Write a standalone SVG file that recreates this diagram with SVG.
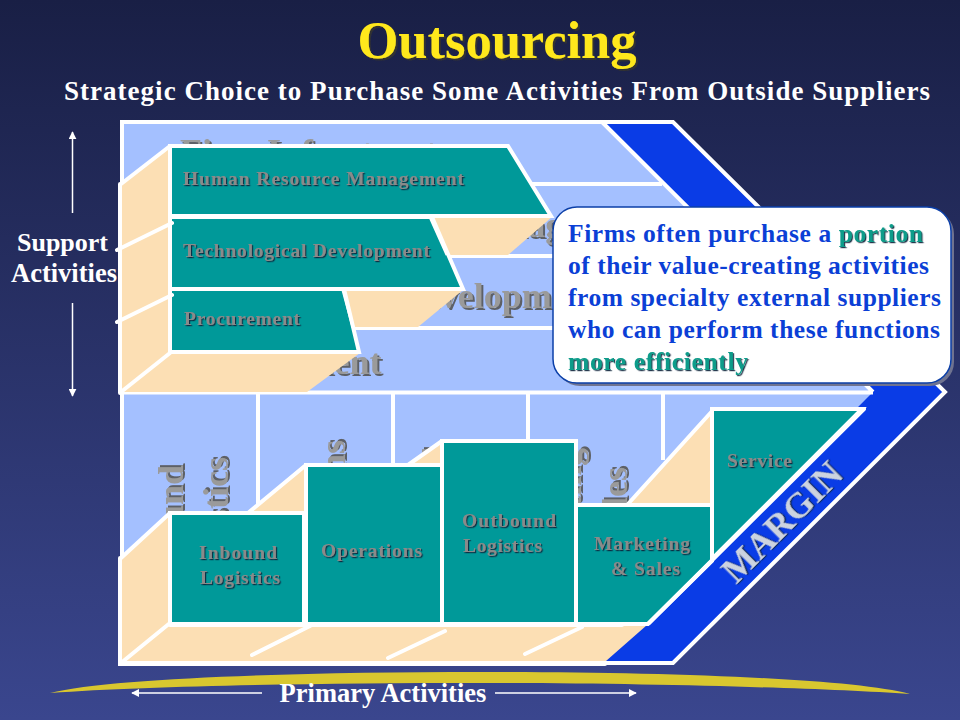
<svg xmlns="http://www.w3.org/2000/svg" width="960" height="720" viewBox="0 0 960 720">
<defs>
<linearGradient id="bg" x1="0" y1="0" x2="0" y2="1"><stop offset="0" stop-color="#191f45"/><stop offset="1" stop-color="#3a468e"/></linearGradient>
<filter id="sh" x="-10%" y="-30%" width="120%" height="160%"><feDropShadow dx="1.2" dy="1.2" stdDeviation="0.2" flood-color="#10203a" flood-opacity="0.9"/></filter>
<filter id="shBig" x="-10%" y="-30%" width="120%" height="160%"><feDropShadow dx="2" dy="2" stdDeviation="0.3" flood-color="#555" flood-opacity="0.9"/></filter>
<filter id="shTitle" x="-10%" y="-30%" width="120%" height="160%"><feDropShadow dx="2" dy="2" stdDeviation="0.3" flood-color="#333" flood-opacity="1"/></filter>
<marker id="ah" viewBox="0 0 10 10" refX="9" refY="5" markerWidth="8" markerHeight="8" markerUnits="userSpaceOnUse" orient="auto-start-reverse"><path d="M0 0L10 5L0 10Z" fill="#fff"/></marker>
</defs>
<style>
text{font-family:"Liberation Serif","Times New Roman",serif;font-weight:bold}
.w{fill:#fff}
.big{fill:#9a9a9a;font-size:36px;filter:url(#shBig)}
.lab{fill:#8a8a8a;font-size:19.500px;filter:url(#sh)}
.call{fill:#0b3fd6;font-size:25.500px}
.hi{fill:#0f9c8a;filter:url(#sh)}
.teal{fill:#009999;stroke:#fff;stroke-width:4}
.cream{fill:#fcdfb4}
.cell{fill:#a4c0ff}
.ln{stroke:#fff;stroke-width:4;fill:none;stroke-linecap:round}
.ar{stroke:#fff;stroke-width:1.5;fill:none;marker-end:url(#ah)}
</style>
<rect width="960" height="720" fill="url(#bg)"/>
<path id="swoosh" d="M50 693C110 678 300 672 480 672C660 672 850 678 910 694C820 688 650 683 480 683C310 683 150 686 50 693Z" fill="#d9c72f"/>
<text class="w" x="497" y="58" text-anchor="middle" font-size="52.500" style="fill:#ffe81a;filter:url(#shTitle)">Outsourcing</text>
<text class="w" x="497" y="100" text-anchor="middle" font-size="27" textLength="866" lengthAdjust="spacing">Strategic Choice to Purchase Some Activities From Outside Suppliers</text>

<g id="chevron">
<polygon points="122,122 673,122 945,392 673,663 122,663" fill="#0a3ce6" stroke="#fff" stroke-width="4"/>
<polygon id="support-area" class="cell" points="124,124 602,124 870,391 124,391"/>
<polygon id="primary-area" class="cell" points="124,394 871,394 605,661 124,661"/>
<g id="hidden-labels">
<text class="big" x="180" y="164">Firm Infrastructure</text>
<text class="big" x="180" y="237">Human Resource Management</text>
<text class="big" x="178" y="308">Technological Development</text>
<text class="big" x="181" y="374">Procurement</text>
<text class="big" transform="translate(183,597) rotate(-90)">Inbound</text>
<text class="big" transform="translate(228,593) rotate(-90)">Logistics</text>
<text class="big" transform="translate(345,612) rotate(-90)">Operations</text>
<text class="big" transform="translate(447,605) rotate(-90)">Outbound</text>
<text class="big" transform="translate(581,612) rotate(-90)">Marketing</text>
<text class="big" transform="translate(627,584) rotate(-90)">&amp; Sales</text>
</g>
<path class="ln" style="stroke-linecap:butt" d="M122 392.500H873M530 184H662M450 256H735M350 328H808M258 393V520M393 393V470M528 393V445M663 393V460M602 122L873 392"/>
</g>

<g id="support-activities">
<polygon class="cream" points="120,184 170,145 170,353 360,353 307,392 120,392"/>
<polygon class="cream" points="430,217 552,217 508,255 446,255"/>
<polygon class="cream" points="340,290 463,290 418,327 352,327"/>
<path class="ln" d="M121 184L170 146M121 392L170 353M120 184V393"/>
<g id="hrm"><polygon class="teal" points="170,146 508,146 551,216 170,216"/><text class="lab" x="183" y="185" textLength="281">Human Resource Management</text></g>
<g id="tech"><polygon class="teal" points="170,217 432,217 463,289 170,289"/><text class="lab" x="183" y="257" textLength="247">Technological Development</text></g>
<g id="proc"><polygon class="teal" points="170,289 344,289 359,352 170,352"/><text class="lab" x="184" y="325" textLength="116">Procurement</text></g>
<path class="ln" d="M117 250L172 223M117 322L172 295"/>
<path class="ln" style="stroke-width:3;stroke-linecap:butt" d="M430 217L447 255M343 290L353 327"/>
</g>

<g id="primary-activities">
<polygon class="cream" points="122,558 170,513 248,513 303,465 408,465 441,441 441,625 647,625 606,661 122,661"/>
<polygon class="cream" points="628,505 714,409 714,505"/>
<path class="ln" d="M120 558V664H605M121 558L170 513M121 663L170 623M252 655L310 626M388 658L445 631M525 654L582 627M628 504L714 409M248 513L306 465M408 465L442 441M622 625H170"/>
<g id="service"><polygon class="teal" points="712,409 862,409 712,559"/><text class="lab" x="727" y="467" textLength="65">Service</text></g>
<g id="inbound"><rect class="teal" x="170" y="513" width="134" height="111"/><text class="lab" x="199" y="559" textLength="78">Inbound</text><text class="lab" x="200" y="584" textLength="80">Logistics</text></g>
<g id="operations"><rect class="teal" x="306" y="465" width="136" height="159"/><text class="lab" x="321" y="557" textLength="101">Operations</text></g>
<g id="outbound"><rect class="teal" x="442" y="441" width="134" height="183"/><text class="lab" x="462" y="527" textLength="94">Outbound</text><text class="lab" x="463" y="552" textLength="79">Logistics</text></g>
<g id="marketing"><polygon class="teal" points="576,505 712,505 712,561 648,624 576,624"/><text class="lab" x="594" y="550" textLength="96">Marketing</text><text class="lab" x="611" y="575" textLength="69">&amp; Sales</text></g>
<path class="ln" d="M649 623L864 409"/>
</g>
<text id="margin" transform="translate(736,585) rotate(-45)" font-size="36" style="fill:#ccd3e0;filter:url(#sh)">MARGIN</text>

<g id="callout">
<rect x="556" y="210" width="398" height="176" rx="24" fill="#6f7390"/>
<rect x="553" y="207" width="398" height="176" rx="24" fill="#fff" stroke="#0b3fa8" stroke-width="1.500"/>
<text class="call" x="568" y="242" textLength="355">Firms often purchase a <tspan class="hi">portion</tspan></text>
<text class="call" x="568" y="274" textLength="361">of their value-creating activities</text>
<text class="call" x="568" y="306" textLength="373">from specialty external suppliers</text>
<text class="call" x="568" y="338" textLength="372">who can perform these functions</text>
<text class="call hi" x="568" y="370" textLength="180">more efficiently</text>
</g>

<g id="axis-labels">
<text class="w" x="62.500" y="251" text-anchor="middle" font-size="26">Support</text>
<text class="w" x="64" y="282" text-anchor="middle" font-size="26.500">Activities</text>
<text class="w" x="383" y="702" text-anchor="middle" font-size="26.500">Primary Activities</text>
</g>
<g id="connectors">
<path class="ar" d="M72.500 213V132"/>
<path class="ar" d="M72.500 303V396"/>
<path class="ar" d="M262 693H132"/>
<path class="ar" d="M495 693H636"/>
</g>
</svg>
